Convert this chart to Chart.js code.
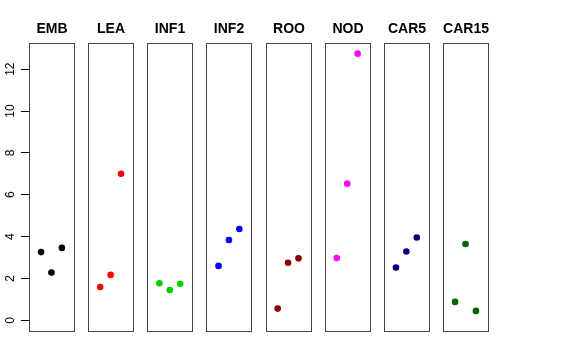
<!DOCTYPE html>
<html>
<head>
<meta charset="utf-8">
<script src="https://cdn.jsdelivr.net/npm/chart.js@4"></script>
<style>
  body { margin: 0; background: #fff; }
  canvas { display: block; }
</style>
</head>
<body>
<canvas id="strip" width="576" height="360"></canvas>
<script>
// groups shown as panels, left to right
const categories = ['EMB', 'LEA', 'INF1', 'INF2', 'ROO', 'NOD', 'CAR5', 'CAR15'];
const colors = ['#000000', '#FF0000', '#00CD00', '#0000FF', '#8B0000', '#FF00FF', '#000080', '#006400'];

// three replicates per group
const EMB = [3.26, 2.28, 3.46];
const LEA = [1.59, 2.17, 7.0];
const INF1 = [1.77, 1.45, 1.75];
const INF2 = [2.6, 3.84, 4.36];
const ROO = [0.56, 2.75, 2.96];
const NOD = [2.98, 6.53, 12.74];
const CAR5 = [2.52, 3.29, 3.96];
const CAR15 = [0.88, 3.65, 0.45];
const series = [EMB, LEA, INF1, INF2, ROO, NOD, CAR5, CAR15];

const yTicks = [0, 2, 4, 6, 8, 10, 12];

const pitch = 1.42;           // distance between panels in x units
const boxLo = 0.46, boxHi = 1.54;

const datasets = series.map(function(vals, i) {
	return {
		label: categories[i],
		data: vals.map((v, j) => ({ x: i * pitch + 0.75 + 0.25 * j, y: v })),
		backgroundColor: colors[i],
		borderColor: colors[i],
		pointRadius: 3.3,
		pointBorderWidth: 0,
		showLine: false
	};
});

const panels = {
	id: 'panels',
	afterDraw(chart) {
		const ctx = chart.ctx;
		const xs = chart.scales.x, ys = chart.scales.y;
		const top = chart.chartArea.top, bottom = chart.chartArea.bottom;
		ctx.save();
		ctx.strokeStyle = '#444';
		ctx.lineWidth = 1;
		ctx.fillStyle = '#000';
		ctx.font = 'bold 14px "Liberation Sans", Arial, sans-serif';
		ctx.textAlign = 'center';
		ctx.textBaseline = 'middle';
		categories.forEach(function(name, i) {
			const l = Math.round(xs.getPixelForValue(i * pitch + boxLo)) + 0.5;
			const r = Math.round(xs.getPixelForValue(i * pitch + boxHi)) + 0.5;
			ctx.strokeRect(l, Math.round(top) + 0.5, r - l, Math.round(bottom - top));
			ctx.fillText(name, (l + r) / 2, 29);
		});
		// y tick labels, parallel to the axis
		ctx.font = '12px "Liberation Sans", Arial, sans-serif';
		yTicks.forEach(function(v) {
			const y = ys.getPixelForValue(v);
			ctx.save();
			ctx.translate(11, y);
			ctx.rotate(-Math.PI / 2);
			ctx.fillText(String(v), 0, 0);
			ctx.restore();
		});
		ctx.restore();
	}
};

new Chart(document.getElementById('strip').getContext('2d'), {
	type: 'scatter',
	data: { datasets: datasets },
	options: {
		responsive: false,
		animation: false,
		layout: { padding: { left: 0, top: 43, right: 88, bottom: 29 } },
		plugins: { legend: { display: false }, tooltip: { enabled: false } },
		scales: {
			x: {
				type: 'linear',
				display: false,
				min: boxLo,
				max: 7 * pitch + boxHi
			},
			y: {
				type: 'linear',
				min: -0.51,
				max: 13.25,
				afterBuildTicks: s => { s.ticks = yTicks.map(v => ({ value: v })); },
				afterFit: s => { s.width = 29; },
				border: { display: false },
				grid: {
					drawOnChartArea: false,
					drawTicks: true,
					tickLength: 8,
					color: '#000',
					lineWidth: 1
				},
				ticks: { display: false }
			}
		}
	},
	plugins: [panels]
});
</script>
</body>
</html>
